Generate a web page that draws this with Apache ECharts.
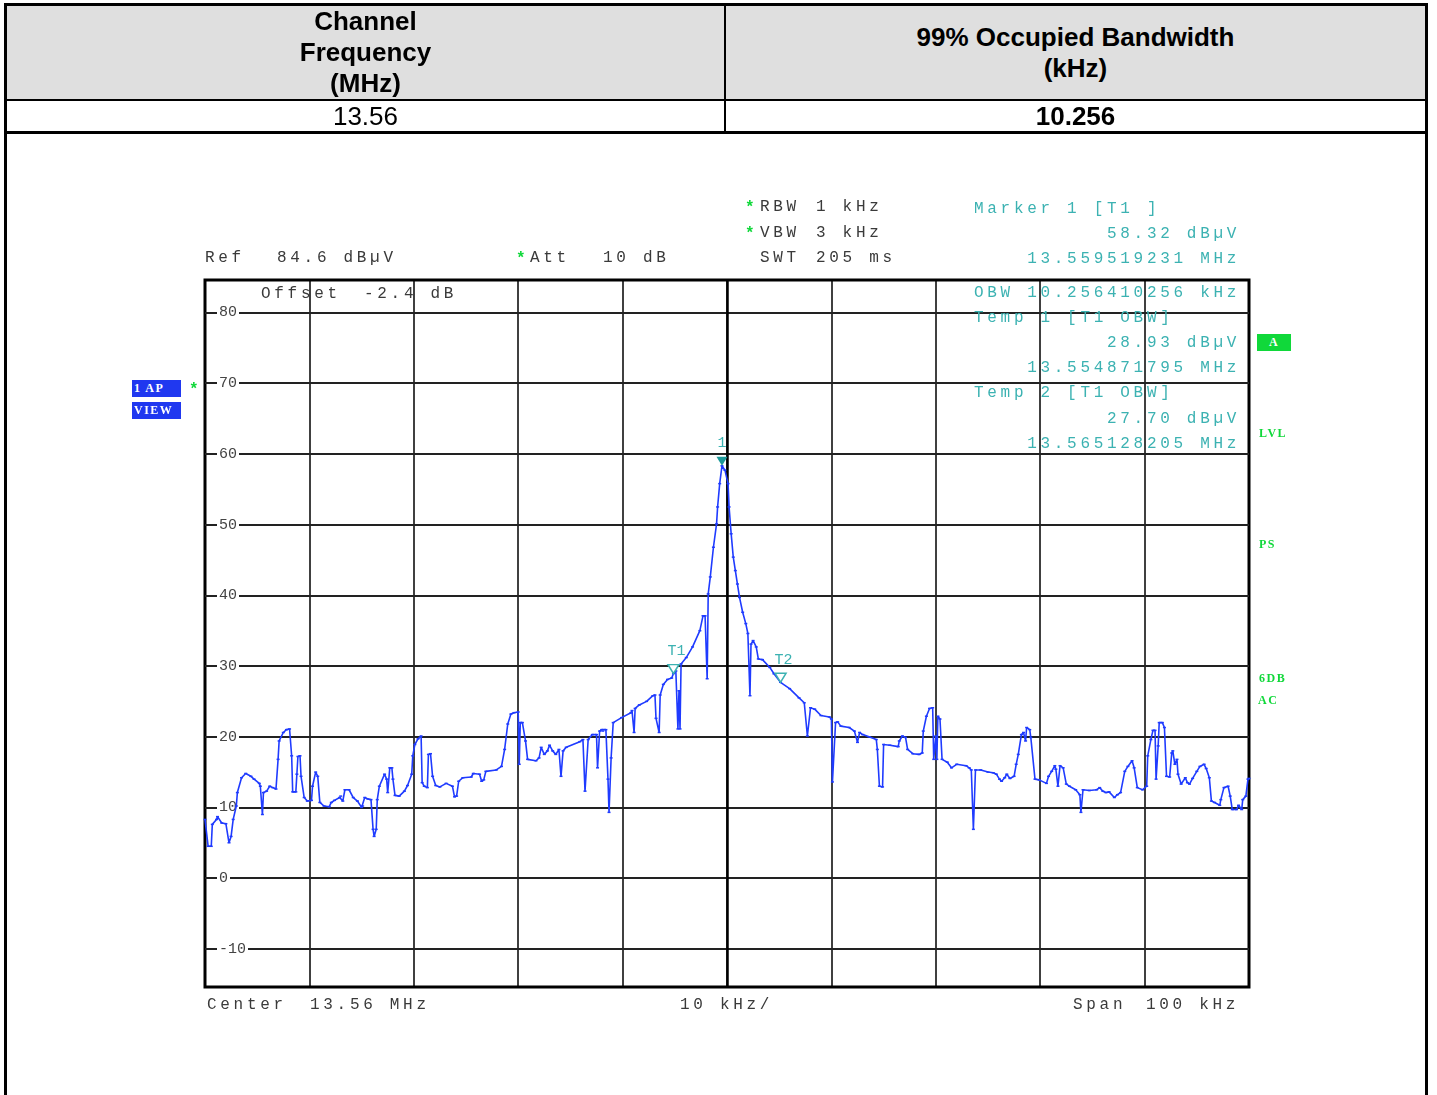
<!DOCTYPE html>
<html>
<head>
<meta charset="utf-8">
<title>Occupied Bandwidth 13.56 MHz</title>
<script src="https://cdn.jsdelivr.net/npm/echarts@6/dist/echarts.min.js"></script>
<style>
  html, body { margin: 0; padding: 0; background: #fff; width: 1437px; height: 1095px; overflow: hidden; }
  #chart { position: absolute; left: 0; top: 0; width: 1437px; height: 1095px; }
  .frame { position: absolute; left: 4px; top: 3px; width: 1424px; height: 1100px; border: 3px solid #000; border-bottom: none; box-sizing: border-box; z-index: 2; }
  .rule { position: absolute; background: #000; z-index: 3; }
  .cell { position: absolute; display: flex; align-items: center; justify-content: center; text-align: center;
          font-family: "Liberation Sans", Arial, sans-serif; font-size: 26px; line-height: 31px; color: #000; z-index: 2; }
  .hdr { background: #dfdfdf; font-weight: bold; }
  .t { position: absolute; font-family: "Liberation Mono", monospace; font-size: 16px; letter-spacing: 3.7px;
       line-height: 16px; white-space: pre; color: #3a3a3a; z-index: 4; }
  .teal { color: #3cb2b2; }
  .star { color: #10d83a; font-weight: bold; letter-spacing: 0; }
  .badge { position: absolute; font-family: "Liberation Serif", serif; font-weight: bold; font-size: 12px;
           line-height: 17px; letter-spacing: 1.5px; white-space: pre; z-index: 4; }
  .blue { background: #2038f0; color: #fff; width: 49px; height: 17px; padding-left: 2px; box-sizing: border-box; }
  .green { color: #10d83a; }
  .gbox { background: #10d83a; color: #fff; width: 34px; height: 17px; text-align: center; }
</style>
</head>
<body>
<div id="chart"></div>

<!-- result table -->
<div class="frame"></div>
<div id="table"></div>
<div class="rule" style="left:4px; top:99px; width:1424px; height:2px;"></div>
<div class="rule" style="left:4px; top:131px; width:1424px; height:3px;"></div>
<div class="rule" style="left:724px; top:3px; width:2px; height:130px;"></div>

<!-- instrument settings -->
<div class="t" style="left:205px; top:250px;">Ref</div>
<div class="t" style="left:277px; top:250px;">84.6 dBµV</div>
<div class="t star" style="left:516px; top:251px;">*</div>
<div class="t" style="left:530px; top:250px;">Att</div>
<div class="t" style="left:603px; top:250px;">10 dB</div>
<div class="t star" style="left:745px; top:200px;">*</div>
<div class="t" style="left:760px; top:199px;">RBW</div>
<div class="t" style="left:816px; top:199px;">1 kHz</div>
<div class="t star" style="left:745px; top:226px;">*</div>
<div class="t" style="left:760px; top:225px;">VBW</div>
<div class="t" style="left:816px; top:225px;">3 kHz</div>
<div class="t" style="left:760px; top:250px;">SWT</div>
<div class="t" style="left:816px; top:250px;">205 ms</div>
<div class="t" style="left:261px; top:286px;">Offset</div>
<div class="t" style="left:364px; top:286px;">-2.4 dB</div>
<div class="t" style="left:207px; top:997px;">Center</div>
<div class="t" style="left:310px; top:997px;">13.56 MHz</div>
<div class="t" style="left:680px; top:997px;">10 kHz/</div>
<div class="t" style="left:1073px; top:997px;">Span</div>
<div class="t" style="left:1146px; top:997px;">100 kHz</div>

<!-- marker readout -->
<div class="t teal" style="left:974px; top:201px;">Marker 1 [T1 ]</div>
<div class="t teal" style="left:974px; top:226px;">          58.32 dBµV</div>
<div class="t teal" style="left:974px; top:251px;">    13.559519231 MHz</div>
<div class="t teal" style="left:974px; top:285px;">OBW 10.256410256 kHz</div>
<div class="t teal" style="left:974px; top:310px;">Temp 1 [T1 OBW]</div>
<div class="t teal" style="left:974px; top:335px;">          28.93 dBµV</div>
<div class="t teal" style="left:974px; top:360px;">    13.554871795 MHz</div>
<div class="t teal" style="left:974px; top:385px;">Temp 2 [T1 OBW]</div>
<div class="t teal" style="left:974px; top:411px;">          27.70 dBµV</div>
<div class="t teal" style="left:974px; top:436px;">    13.565128205 MHz</div>

<!-- trace / status flags -->
<div class="badge blue" style="left:132px; top:380px;">1 AP</div>
<div class="badge blue" style="left:132px; top:402px;">VIEW</div>
<div class="t star" style="left:189px; top:382px;">*</div>
<div class="badge gbox" style="left:1257px; top:334px;">A</div>
<div class="badge green" style="left:1259px; top:425px;">LVL</div>
<div class="badge green" style="left:1259px; top:536px;">PS</div>
<div class="badge green" style="left:1259px; top:670px;">6DB</div>
<div class="badge green" style="left:1258px; top:692px;">AC</div>

<script>
// Result table contents
const tableHeaders = ['Channel<br>Frequency<br>(MHz)', '99% Occupied Bandwidth<br>(kHz)'];
const tableValues = ['13.56', '10.256'];

// Sweep settings
const centerMHz = 13.56;
const spanKHz = 100;
const refLevel = 84.6;          // dBµV, top of screen
const levelRange = 100;         // 10 dB/div, 10 divisions
const levelGridValues = [80, 70, 60, 50, 40, 30, 20, 10, 0, -10];

// Trace: frequency offset from center (kHz) and level (dBµV)
const freqOffsetKHz = [
  -50.0,-49.7,-49.4,-49.3,-48.9,-48.8,-48.4,-48.0,-47.7,-47.5,
  -47.3,-47.0,-46.9,-46.5,-46.1,-45.6,-45.3,-44.8,-44.7,-44.5,
  -44.4,-44.1,-43.8,-43.5,-43.2,-43.0,-42.9,-42.5,-42.2,-41.9,
  -41.7,-41.6,-41.3,-41.2,-41.1,-40.9,-40.8,-40.5,-40.2,-39.8,
  -39.7,-39.4,-39.2,-39.0,-38.6,-38.1,-37.9,-37.6,-37.1,-37.0,
  -36.8,-36.6,-36.2,-35.8,-35.4,-35.0,-34.9,-34.7,-34.4,-34.1,
  -33.9,-33.8,-33.6,-33.5,-33.3,-32.8,-32.6,-32.5,-32.3,-32.1,
  -32.0,-31.8,-31.4,-30.9,-30.6,-30.2,-30.1,-29.9,-29.6,-29.3,
  -29.2,-29.0,-28.7,-28.6,-28.4,-28.2,-27.9,-27.5,-26.9,-26.3,
  -26.1,-25.9,-25.7,-25.3,-24.5,-24.3,-23.7,-23.5,-23.3,-23.1,
  -22.1,-21.6,-21.3,-21.0,-20.7,-20.4,-20.0,-19.9,-19.8,-19.6,
  -19.3,-19.1,-18.3,-18.0,-17.8,-17.5,-17.2,-17.0,-16.7,-16.4,
  -16.1,-15.9,-15.7,-15.4,-14.1,-13.8,-13.6,-13.3,-12.9,-12.5,
  -12.4,-12.2,-12.0,-11.9,-11.6,-11.4,-11.3,-11.1,-10.9,-10.1,
  -9.2,-9.1,-8.9,-8.8,-8.4,-7.7,-7.1,-6.9,-6.8,-6.5,
  -6.4,-6.1,-5.7,-5.3,-5.128,-4.9,-4.7,-4.6,-4.5,-4.4,
  -3.9,-3.3,-2.6,-2.3,-2.1,-1.9,-1.8,-1.6,-1.3,-1.0,
  -0.9,-0.7,-0.481,-0.2,0.1,0.2,0.4,0.6,0.8,1.0,
  1.2,1.5,1.8,2.0,2.2,2.3,2.5,2.8,3.0,3.4,
  4.1,4.5,5.128,6.0,6.9,7.4,7.7,8.0,8.4,9.0,
  9.8,10.0,10.1,10.4,10.6,10.9,11.7,12.2,12.5,12.7,
  13.0,13.6,14.3,14.4,14.6,14.9,15.0,15.6,16.4,16.5,
  16.8,17.1,17.3,17.8,18.4,18.7,18.8,19.1,19.4,19.7,
  19.8,20.0,20.1,20.2,20.4,20.6,21.1,21.5,22.0,22.9,
  23.2,23.4,23.6,23.8,24.3,25.0,25.5,25.8,26.1,26.3,
  26.6,26.8,27.1,27.5,27.7,27.9,28.2,28.4,28.6,28.7,
  29.0,29.1,29.5,29.9,30.6,30.8,31.1,31.4,31.5,31.7,
  31.9,32.2,32.5,32.8,33.4,33.8,33.9,34.1,34.7,35.4,
  35.7,36.0,36.3,36.6,37.1,37.4,37.7,38.1,38.4,38.8,
  39.0,39.3,39.8,40.2,40.3,40.6,40.8,41.0,41.1,41.3,
  41.4,41.7,41.9,42.1,42.4,42.6,42.7,42.9,43.1,43.2,
  43.5,43.9,44.1,44.3,44.6,45.0,45.3,45.7,45.9,46.2,
  46.4,46.7,47.2,47.3,47.6,48.0,48.2,48.4,48.8,49.0,
  49.3,49.4,49.7,49.9,50.0
];
const levelDbuV = [
  8.3,4.5,4.5,7.6,8.3,8.7,7.8,7.7,5.0,5.9,
  8.3,10.2,12.1,14.2,14.8,14.4,14.0,13.4,13.0,9.0,
  12.1,12.3,13.0,12.8,12.6,16.8,19.4,20.6,21.0,21.1,
  17.3,12.2,12.2,14.7,17.2,17.3,14.4,11.4,10.9,11.0,
  13.0,15.0,14.4,10.7,10.2,10.1,10.7,11.0,11.4,11.6,
  10.9,12.5,12.5,11.4,10.9,10.0,10.2,11.4,11.2,11.1,
  6.9,5.9,6.9,11.1,13.0,14.7,14.0,12.1,15.6,15.6,
  14.0,11.7,11.6,12.3,13.1,14.7,17.3,18.9,19.7,20.1,
  13.5,13.0,12.8,17.5,17.6,14.4,13.1,12.9,13.4,13.0,
  11.5,11.6,13.7,14.2,14.3,14.8,14.7,13.7,13.9,15.1,
  15.3,15.8,18.2,21.8,23.2,23.4,23.5,16.1,22.0,22.0,
  19.4,16.8,16.6,17.0,18.5,17.5,18.0,18.8,18.0,17.5,
  18.2,14.4,18.0,18.5,19.3,19.6,12.3,19.6,20.3,20.3,
  15.6,20.8,21.0,20.8,21.0,14.0,9.3,17.0,22.0,22.7,
  23.4,23.7,20.6,24.0,24.5,25.0,25.8,25.9,22.6,20.6,
  25.9,27.4,28.1,28.3,28.93,29.3,21.1,26.5,21.1,30.3,
  31.2,32.7,35.0,37.1,37.1,28.2,40.2,42.6,46.8,50.1,
  52.5,55.8,58.32,57.7,55.8,52.5,48.7,45.4,43.5,41.6,
  39.7,37.6,36.0,34.6,25.8,33.1,33.6,32.7,31.0,30.9,
  29.8,28.9,27.7,26.8,25.5,24.8,20.1,24.1,23.9,23.0,
  22.8,22.5,13.6,22.0,22.1,21.5,21.3,20.8,19.2,20.6,
  20.3,20.0,19.6,18.2,13.0,12.9,18.9,18.8,18.6,19.4,
  20.1,19.9,18.2,17.6,17.5,17.7,20.8,22.9,24.0,24.1,
  16.8,20.1,16.8,22.9,22.5,16.8,16.4,15.6,16.1,15.9,
  15.6,15.3,6.9,15.3,15.3,15.0,14.9,14.7,14.0,13.7,
  14.2,14.7,14.1,14.4,16.1,17.5,20.3,20.6,19.4,21.3,
  21.0,19.9,14.0,13.9,13.4,14.4,15.1,15.9,15.4,13.0,
  15.9,15.6,13.3,13.0,12.5,11.8,9.3,12.5,12.4,12.5,
  12.8,12.3,12.1,12.2,11.4,11.8,12.1,15.1,15.8,16.6,
  15.6,12.8,12.5,13.0,17.3,19.6,20.9,20.9,14.0,18.7,
  22.0,22.0,21.3,14.4,14.3,17.7,18.0,16.1,16.8,14.7,
  13.3,14.2,13.5,13.3,14.1,15.1,15.8,16.1,15.5,14.2,
  10.9,10.7,10.3,11.1,12.8,13.0,11.6,9.7,9.7,10.3,
  9.7,11.1,11.6,14.0,14.1
];

// Markers: peak marker and the two OBW limit markers
const markerNames = ['1', 'T1', 'T2'];
const markerFreqMHz = [13.559519231, 13.554871795, 13.565128205];
const markerLevels = [58.32, 28.93, 27.70];

// build the table cells
(function () {
  const host = document.getElementById('table');
  const cols = [{ left: 7, width: 717 }, { left: 726, width: 699 }];
  cols.forEach((c, i) => {
    const h = document.createElement('div');
    h.className = 'cell hdr';
    h.style.cssText = `left:${c.left}px;top:6px;width:${c.width}px;height:93px;`;
    h.innerHTML = `<div>${tableHeaders[i]}</div>`;
    host.appendChild(h);
    const v = document.createElement('div');
    v.className = 'cell';
    v.style.cssText = `left:${c.left}px;top:101px;width:${c.width}px;height:30px;font-weight:${i === 1 ? 'bold' : 'normal'};`;
    v.textContent = tableValues[i];
    host.appendChild(v);
  });
})();

const trace = freqOffsetKHz.map((f, i) => [f, levelDbuV[i]]);
const teal = '#3cb2b2';
const monoLabel = { fontFamily: 'Liberation Mono, monospace', fontSize: 15, color: teal };
const downTriangle = 'path://M0,0L12,0L6,9Z';

const markPoints = markerNames.map((name, i) => {
  const filled = i === 0;
  return {
    name,
    coord: [(markerFreqMHz[i] - centerMHz) * 1000, markerLevels[i]],
    symbol: downTriangle,
    symbolSize: [11, 9],
    symbolOffset: [0, -4.5],
    itemStyle: filled
      ? { color: '#1d9a9a' }
      : { color: '#fff', borderColor: teal, borderWidth: 1.5 },
    label: filled
      ? Object.assign({ show: true, formatter: name, position: 'top', distance: 6 }, monoLabel)
      : Object.assign({ show: true, formatter: name, position: 'top', align: 'left', distance: 5, offset: [-6, 0] }, monoLabel)
  };
});

const chart = echarts.init(document.getElementById('chart'), null, { renderer: 'canvas' });
chart.setOption({
  animation: false,
  backgroundColor: 'transparent',
  grid: {
    left: 205, top: 280, width: 1044, height: 707,
    show: true, borderColor: '#000', borderWidth: 3, backgroundColor: '#fff'
  },
  xAxis: {
    type: 'value',
    min: -spanKHz / 2, max: spanKHz / 2, interval: 10,
    axisLine: { show: false }, axisTick: { show: false }, axisLabel: { show: false },
    splitLine: { show: true, lineStyle: { color: '#000', width: 1.5 } }
  },
  yAxis: {
    type: 'value',
    min: refLevel - levelRange, max: refLevel,
    axisLine: { show: false }, axisTick: { show: false }, axisLabel: { show: false },
    splitLine: { show: false }
  },
  series: [{
    type: 'line',
    data: trace,
    z: 3,
    silent: true,
    showSymbol: true,
    showAllSymbol: true,
    symbol: 'rect',
    symbolSize: [3, 1.5],
    itemStyle: { color: '#1f3bff' },
    lineStyle: { color: '#1f3bff', width: 1.6 },
    markLine: {
      silent: true,
      z: 1,
      animation: false,
      symbol: ['none', 'none'],
      lineStyle: { color: '#222', width: 2, type: 'solid' },
      label: {
        position: 'insideStart',
        distance: [12, 0],
        color: '#444',
        fontFamily: 'Liberation Mono, monospace',
        fontSize: 15,
        backgroundColor: '#fff',
        padding: [0, 2]
      },
      data: levelGridValues.map(v => ({ yAxis: v, label: { formatter: String(v) } }))
        .concat([{ xAxis: 0, lineStyle: { color: '#000', width: 2.5 }, label: { show: false } }])
    },
    markPoint: { z: 6, animation: false, data: markPoints }
  }]
});
</script>
</body>
</html>
